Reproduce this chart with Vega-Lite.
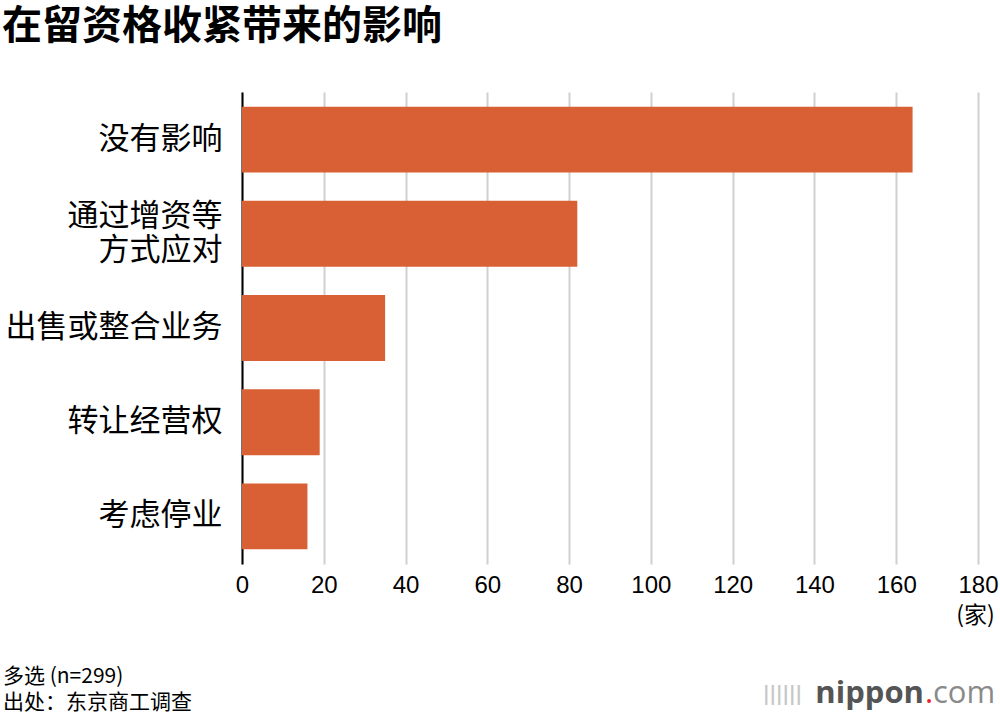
{
  "$schema": "https://vega.github.io/schema/vega-lite/v6.json",
  "width": 736,
  "height": 472,
  "autosize": "none",
  "padding": {"left": 242, "top": 92, "right": 22, "bottom": 160},
  "background": "white",
  "title": {
    "text": "在留资格收紧带来的影响",
    "anchor": "start",
    "frame": "group",
    "dx": -240,
    "offset": 13,
    "baseline": "alphabetic",
    "font": "Noto Sans CJK SC",
    "fontSize": 40,
    "fontWeight": "bold",
    "color": "#000000"
  },
  "layer": [
    {
      "data": {
        "values": [
          {"impact": "没有影响", "count": 164},
          {"impact": "通过增资等方式应对", "count": 82},
          {"impact": "出售或整合业务", "count": 35},
          {"impact": "转让经营权", "count": 19},
          {"impact": "考虑停业", "count": 16}
        ]
      },
      "mark": {"type": "bar", "color": "#d95f34"},
      "encoding": {
        "y": {
          "field": "impact",
          "type": "nominal",
          "sort": null,
          "scale": {"paddingInner": 0.3, "paddingOuter": 0.156},
          "axis": {
            "title": null,
            "ticks": false,
            "domain": true,
            "domainColor": "#000000",
            "domainWidth": 2,
            "labelFont": "Noto Sans CJK SC",
            "labelFontSize": 31,
            "labelColor": "#000000",
            "labelPadding": 20,
            "labelLimit": 300,
            "labelLineHeight": 34,
            "labelOffset": {"condition": {"test": "datum.value == '通过增资等方式应对'", "value": -17}, "value": 0},
            "labelExpr": "datum.label == '通过增资等方式应对' ? ['通过增资等', '方式应对'] : datum.label"
          }
        },
        "x": {
          "field": "count",
          "type": "quantitative",
          "scale": {"domain": [0, 180]},
          "axis": {
            "values": [0, 20, 40, 60, 80, 100, 120, 140, 160, 180],
            "domain": false,
            "ticks": false,
            "grid": true,
            "gridColor": "#d0d0d0",
            "gridWidth": 2,
            "labelFlush": false,
            "labelOverlap": false,
            "labelFont": "Liberation Sans",
            "labelFontSize": 24,
            "labelColor": "#000000",
            "labelPadding": 9,
            "title": "(家)",
            "titleFont": "Noto Sans CJK SC",
            "titleFontSize": 23,
            "titleFontWeight": "normal",
            "titleColor": "#000000",
            "titleAnchor": null,
            "titleAlign": "center",
            "titleBaseline": "middle",
            "titleX": 733,
            "titleY": 51
          }
        }
      }
    },
    {
      "data": {"values": [{}]},
      "mark": {"type": "text", "text": "多选 (n=299)", "align": "left", "baseline": "middle", "font": "Noto Sans CJK SC", "fontSize": 21, "color": "#000000"},
      "encoding": {"x": {"value": -239}, "y": {"value": 585}}
    },
    {
      "data": {"values": [{}]},
      "mark": {"type": "text", "text": "出处：东京商工调查", "align": "left", "baseline": "middle", "font": "Noto Sans CJK SC", "fontSize": 21, "color": "#000000"},
      "encoding": {"x": {"value": -239}, "y": {"value": 611}}
    },
    {
      "data": {"values": [{}]},
      "mark": {"type": "text", "text": "ǀǀǀǀǀǀ", "align": "right", "baseline": "alphabetic", "font": "DejaVu Sans", "fontSize": 22, "color": "#c8c8c8"},
      "encoding": {"x": {"value": 560}, "y": {"value": 609}}
    },
    {
      "data": {"values": [{}]},
      "mark": {"type": "text", "text": "nippon", "align": "right", "baseline": "alphabetic", "font": "Open Sans", "fontSize": 31, "fontWeight": "bold", "color": "#555555"},
      "encoding": {"x": {"value": 682}, "y": {"value": 611}}
    },
    {
      "data": {"values": [{}]},
      "mark": {"type": "text", "text": ".", "align": "left", "baseline": "alphabetic", "font": "Open Sans", "fontSize": 31, "color": "#e8202a"},
      "encoding": {"x": {"value": 683}, "y": {"value": 611}}
    },
    {
      "data": {"values": [{}]},
      "mark": {"type": "text", "text": "com", "align": "left", "baseline": "alphabetic", "font": "Open Sans", "fontSize": 31, "color": "#8a8a8a"},
      "encoding": {"x": {"value": 691}, "y": {"value": 611}}
    }
  ],
  "config": {"view": {"stroke": null}}
}
